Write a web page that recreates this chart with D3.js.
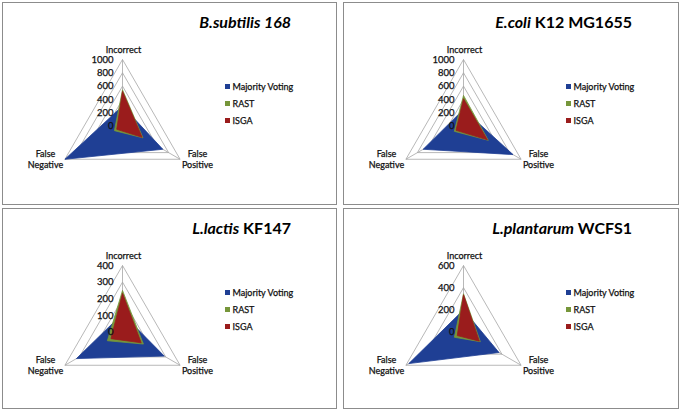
<!DOCTYPE html>
<html>
<head>
<meta charset="utf-8">
<script src="https://cdn.jsdelivr.net/npm/d3@7/dist/d3.min.js"></script>
<style>
  html, body { margin: 0; padding: 0; background: #fff; }
  svg { display: block; font-family: Lato, "Open Sans", sans-serif; }
  .lbl { stroke: #111; stroke-width: 0.25; }
</style>
</head>
<body>
<svg id="chart" width="683" height="414"></svg>
<script>
// ---- data ----
const categories = ["Incorrect", "False Positive", "False Negative"];
const seriesNames = ["Majority Voting", "RAST", "ISGA"];
const seriesColors = ["#1f3f94", "#76963a", "#9a1c1c"];

const titleItalic = ["B.subtilis 168", "E.coli", "L.lactis", "L.plantarum"];
const titleRest = ["", " K12 MG1655", " KF147", " WCFS1"];

const axisMax = [1000, 1000, 400, 600];
const axisStep = [200, 200, 100, 200];

// values per panel, order: Incorrect, False Positive, False Negative
const bsubMV = [300, 700, 1000];
const bsubRAST = [545, 355, 140];
const bsubISGA = [520, 340, 100];

const ecoliMV = [250, 860, 700];
const ecoliRAST = [460, 430, 160];
const ecoliISGA = [410, 415, 130];

const llactisMV = [110, 290, 320];
const llactisRAST = [250, 145, 105];
const llactisISGA = [232, 130, 80];

const lplantMV = [200, 370, 570];
const lplantRAST = [345, 175, 95];
const lplantISGA = [335, 165, 65];

const panelSeries = [
  [bsubMV, bsubRAST, bsubISGA],
  [ecoliMV, ecoliRAST, ecoliISGA],
  [llactisMV, llactisRAST, llactisISGA],
  [lplantMV, lplantRAST, lplantISGA]
];

// ---- layout ----
const panels = [
  {x: 2, y: 2, w: 334, h: 202},
  {x: 343, y: 2, w: 335, h: 202},
  {x: 2, y: 208, w: 334, h: 200},
  {x: 343, y: 208, w: 335, h: 200}
];
const R = 66.5;
const angles = [-90, 30, 150].map(a => a * Math.PI / 180);

const svg = d3.select("#chart");

panels.forEach((p, i) => {
  const g = svg.append("g");
  g.append("rect")
    .attr("x", p.x + 0.5).attr("y", p.y + 0.5)
    .attr("width", p.w).attr("height", p.h)
    .attr("fill", "#fff").attr("stroke", "#8c8c8c").attr("stroke-width", 1);

  const cx = p.x + 120.5, cy = p.y + 124;
  const r = d3.scaleLinear().domain([0, axisMax[i]]).range([0, R]);
  const ticks = d3.range(0, axisMax[i] + 0.001, axisStep[i]);
  const pt = (v, k) => [cx + r(v) * Math.cos(angles[k]), cy + r(v) * Math.sin(angles[k])];

  // grid rings
  ticks.filter(t => t > 0).forEach(t => {
    g.append("path")
      .attr("d", d3.line()(angles.map((a, k) => pt(t, k))) + "Z")
      .attr("fill", "none").attr("stroke", "#a6a6a6").attr("stroke-width", 0.8);
  });
  // spokes
  angles.forEach((a, k) => {
    const e = pt(axisMax[i], k);
    g.append("line").attr("x1", cx).attr("y1", cy).attr("x2", e[0]).attr("y2", e[1])
      .attr("stroke", "#a6a6a6").attr("stroke-width", 0.8);
  });

  // series
  panelSeries[i].forEach((vals, s) => {
    g.append("path")
      .attr("d", d3.line()(vals.map((v, k) => pt(v, k))) + "Z")
      .attr("fill", seriesColors[s]).attr("stroke", seriesColors[s]).attr("stroke-width", 0.8);
  });

  // tick labels
  ticks.forEach(t => {
    g.append("text").attr("class", "lbl")
      .attr("x", cx - 9).attr("y", cy - r(t))
      .attr("dy", "0.35em")
      .attr("text-anchor", "end")
      .attr("font-size", 9.5).attr("fill", "#111")
      .text(t);
  });

  // category labels
  g.append("text").attr("class", "lbl").attr("x", cx + 1).attr("y", p.y + 50.5)
    .attr("text-anchor", "middle").attr("font-size", 9).attr("fill", "#111")
    .text(categories[0]);
  const fp = categories[1].split(" ");
  const fn = categories[2].split(" ");
  [fp, fn].forEach((words, j) => {
    const x = j === 0 ? cx + 75 : cx - 77;
    words.forEach((w, l) => {
      g.append("text").attr("class", "lbl").attr("x", x).attr("y", p.y + 155 + l * 11)
        .attr("text-anchor", "middle").attr("font-size", 9).attr("fill", "#111")
        .text(w);
    });
  });

  // legend
  seriesNames.forEach((n, s) => {
    const ly = p.y + 84.5 + s * 17;
    g.append("rect").attr("x", p.x + 223).attr("y", ly - 2.5)
      .attr("width", 5).attr("height", 5).attr("fill", seriesColors[s]);
    g.append("text").attr("class", "lbl").attr("x", p.x + 230.5).attr("y", ly).attr("dy", "0.35em")
      .attr("font-size", 9).attr("fill", "#111").text(n);
  });

  // title
  const t = g.append("text").attr("x", p.x + 289).attr("y", p.y + 25.5)
    .attr("text-anchor", "end").attr("font-size", 16).attr("font-weight", "bold")
    .attr("fill", "#000");
  t.append("tspan").attr("font-style", "italic").text(titleItalic[i]);
  if (titleRest[i]) t.append("tspan").text(titleRest[i]);
});
</script>
</body>
</html>
